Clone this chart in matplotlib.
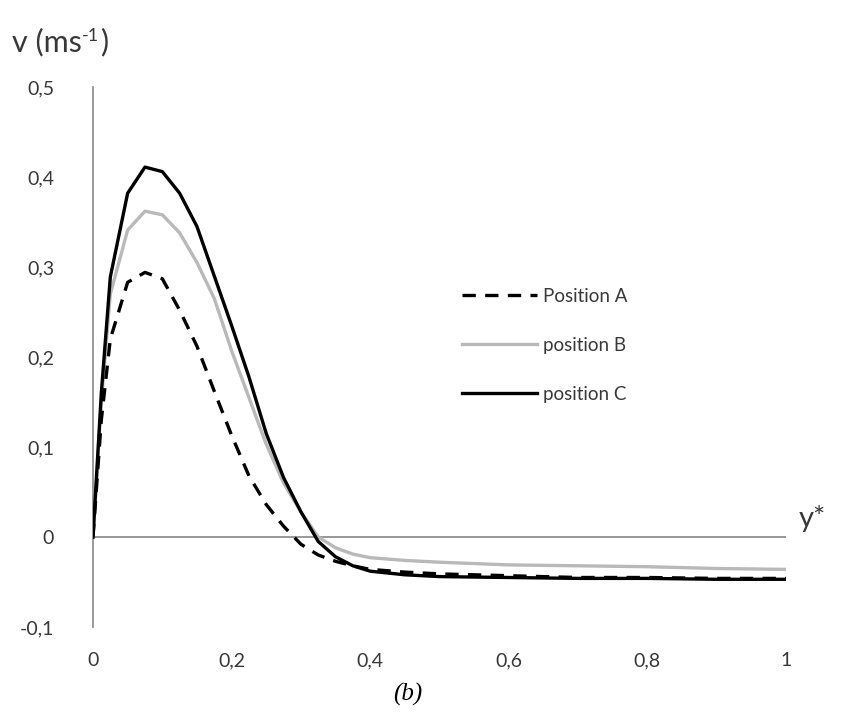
import numpy as np
import matplotlib
matplotlib.use("Agg")
import matplotlib.pyplot as plt

plt.rcParams['font.family'] = ['Lato', 'DejaVu Sans']

# y* positions and velocities
x_a = [0, 0.012, 0.025, 0.05, 0.075, 0.1, 0.125, 0.15, 0.175, 0.2, 0.225, 0.25,
       0.275, 0.3, 0.325, 0.35, 0.375, 0.4, 0.45, 0.5, 0.6, 0.7, 0.8, 0.9, 1.0]
v_a = [0, 0.13, 0.22, 0.283, 0.294, 0.287, 0.252, 0.212, 0.162, 0.113, 0.068, 0.036,
       0.012, -0.008, -0.02, -0.027, -0.032, -0.036, -0.039, -0.041, -0.043, -0.045,
       -0.045, -0.046, -0.046]

x_b = [0, 0.012, 0.025, 0.05, 0.075, 0.1, 0.125, 0.15, 0.175, 0.2, 0.225, 0.25,
       0.275, 0.3, 0.325, 0.35, 0.375, 0.4, 0.45, 0.5, 0.6, 0.7, 0.8, 0.9, 1.0]
v_b = [0, 0.15, 0.27, 0.341, 0.362, 0.358, 0.338, 0.305, 0.265, 0.207, 0.155, 0.103,
       0.06, 0.028, 0.0, -0.012, -0.019, -0.023, -0.026, -0.028, -0.031, -0.032,
       -0.033, -0.035, -0.036]

x_c = [0, 0.012, 0.025, 0.05, 0.075, 0.1, 0.125, 0.15, 0.175, 0.2, 0.225, 0.25,
       0.275, 0.3, 0.325, 0.35, 0.375, 0.4, 0.45, 0.5, 0.6, 0.7, 0.8, 0.9, 1.0]
v_c = [0, 0.16, 0.289, 0.382, 0.411, 0.406, 0.382, 0.345, 0.29, 0.235, 0.178, 0.115,
       0.066, 0.028, -0.005, -0.022, -0.032, -0.038, -0.042, -0.044, -0.045, -0.046,
       -0.046, -0.047, -0.047]

labels = ["Position A", "position B", "position C"]
xticks = [0, 0.2, 0.4, 0.6, 0.8, 1]
yticks = [-0.1, 0, 0.1, 0.2, 0.3, 0.4, 0.5]


def comma(v):
    s = "%g" % round(v, 2)
    return s.replace(".", ",")


fig = plt.figure(figsize=(8.48, 7.14), dpi=100)
ax = fig.add_axes([93 / 848, 1 - 627 / 714, 693 / 848, 540 / 714])

axis_grey = "#868686"
text_col = "#383838"
ax.axhline(0, color=axis_grey, lw=1.2, zorder=1)

ax.plot(x_a, v_a, color="black", lw=2.4, dashes=(4, 2.8), label=labels[0], zorder=3)
ax.plot(x_b, v_b, color="#b9b9b9", lw=2.4, label=labels[1], zorder=2)
ax.plot(x_c, v_c, color="black", lw=2.4, label=labels[2], zorder=4)

ax.set_xlim(0, 1)
ax.set_ylim(-0.1, 0.5)
for s in ["top", "right", "bottom"]:
    ax.spines[s].set_visible(False)
ax.spines["left"].set_color(axis_grey)
ax.spines["left"].set_linewidth(1.2)

ax.set_xticks(xticks)
ax.set_xticklabels([comma(t) for t in xticks])
ax.set_yticks(yticks)
ax.set_yticklabels([comma(t) for t in yticks])
ax.tick_params(axis="both", length=0, labelsize=14, colors=text_col)
ax.tick_params(axis="x", pad=18)
ax.tick_params(axis="y", pad=28)

leg = ax.legend(loc="upper left", bbox_to_anchor=(0.532, 0.628), frameon=False,
                fontsize=13.5, handlelength=4.0, handletextpad=0.35,
                labelspacing=1.7, borderpad=0, borderaxespad=0)
for t in leg.get_texts():
    t.set_color(text_col)

# axis titles, with a plain hyphen in the superscript
t1 = fig.text(12 / 848, 1 - 42 / 714, "v (ms", fontsize=22, va="center",
              ha="left", color=text_col)
ax.annotate("-1", xy=(1, 0.72), xycoords=t1, fontsize=13, va="center",
            ha="left", color=text_col, annotation_clip=False)
ax.annotate(")", xy=(1, 0.5), xycoords=t1, xytext=(13, 0),
            textcoords="offset points", fontsize=22, va="center", ha="left",
            color=text_col, annotation_clip=False)
fig.text(799 / 848, 1 - 518 / 714, "y*", fontsize=21, va="center", ha="left",
         color=text_col)
fig.text(408 / 848, 1 - 694 / 714, "(b)", fontsize=18, va="center", ha="center",
         family="Liberation Serif", style="italic")

fig.savefig("out.png", dpi=100)
